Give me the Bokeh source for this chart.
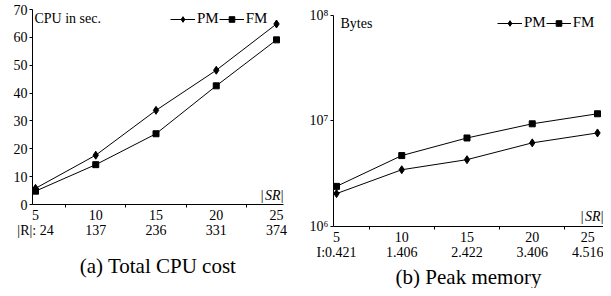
from bokeh.plotting import figure
from bokeh.models import Range1d, FixedTicker, Label, Legend, LegendItem, Title
from bokeh.layouts import row, column
from bokeh.embed import file_html
from bokeh.resources import INLINE

# ---------------- data ----------------
sr = [5, 10, 15, 20, 25]
cpu_pm = [5.8, 17.7, 33.8, 48.2, 64.8]
cpu_fm = [4.8, 14.3, 25.4, 42.6, 59.1]
r_sizes = ["24", "137", "236", "331", "374"]

mem_pm = [2.05e6, 3.45e6, 4.3e6, 6.2e6, 7.7e6]
mem_fm = [2.4e6, 4.7e6, 6.9e6, 9.4e6, 1.17e7]
i_vals = ["0.421", "1.406", "2.422", "3.406", "4.516"]

cpu_ticks = [0, 10, 20, 30, 40, 50, 60, 70]
mem_ticks = [1e6, 1e7, 1e8]
mem_tick_labels = {1e6: "10\u2076", 1e7: "10\u2077", 1e8: "10\u2078"}
minor_x = [7.5, 12.5, 17.5, 22.5]

FONT = "Times New Roman"


def style_axes(p, line_height):
    for ax in [p.xaxis[0], p.yaxis[0]]:
        ax.axis_line_color = "black"
        ax.axis_line_width = 1
        ax.major_tick_line_color = "black"
        ax.minor_tick_line_color = "black"
        ax.major_label_text_font = FONT
        ax.major_label_text_font_size = "14px"
        ax.major_label_text_color = "black"
    p.xaxis.major_label_text_line_height = line_height
    p.xaxis.major_tick_out = 0
    p.xaxis.major_tick_in = 0
    p.xaxis.minor_tick_out = 3
    p.xaxis.minor_tick_in = 0
    p.xaxis.major_label_standoff = 0
    p.yaxis.major_tick_out = 3
    p.yaxis.major_tick_in = 0
    p.yaxis.minor_tick_out = 0
    p.yaxis.minor_tick_in = 0
    p.yaxis.major_label_standoff = 2
    p.xgrid.visible = False
    p.ygrid.visible = False
    p.outline_line_color = None


def lab(p, text, x, y, align="left", base="middle", size="14px", style="normal"):
    p.add_layout(Label(x=x, y=y, x_units="screen", y_units="screen", text=text,
                       text_align=align, text_baseline=base,
                       text_font=FONT, text_font_size=size,
                       text_font_style=style, text_color="black"))


def add_legend(p, rs, loc):
    items = [LegendItem(label="PM", renderers=rs[0]),
             LegendItem(label="FM", renderers=rs[1])]
    lg = Legend(items=items, orientation="horizontal", location=loc,
                glyph_width=25, glyph_height=14, label_height=14,
                label_standoff=2, spacing=0, padding=0, margin=0,
                border_line_color=None, background_fill_alpha=0,
                label_text_font=FONT, label_text_font_size="15px",
                label_text_line_height=1.0,
                label_text_color="black")
    p.add_layout(lg)


def caption(p, text, standoff):
    p.add_layout(Title(text=text, align="center", text_font=FONT,
                       text_font_size="21px", text_font_style="normal",
                       text_line_height=1.0,
                       text_color="black", standoff=standoff), "below")


# ---------------- (a) Total CPU cost ----------------
p1 = figure(width=300, height=288, output_backend="svg", toolbar_location=None,
            x_range=Range1d(4.75, 25.58), y_range=Range1d(0, 70),
            min_border_left=32, min_border_right=17,
            min_border_top=9, min_border_bottom=82)
p1.xaxis.ticker = FixedTicker(ticks=sr, minor_ticks=minor_x)
p1.xaxis.major_label_overrides = {
    s: f"{s}\n" + ("|R|: " if i == 0 else "") + r
    for i, (s, r) in enumerate(zip(sr, r_sizes))}
p1.yaxis.ticker = FixedTicker(ticks=cpu_ticks)
style_axes(p1, 1.05)

l1 = p1.line(sr, cpu_pm, line_color="black", line_width=1)
s1 = p1.scatter(sr, cpu_pm, marker="diamond", size=8, color="black")
l2 = p1.line(sr, cpu_fm, line_color="black", line_width=1)
s2 = p1.scatter(sr, cpu_fm, marker="square", size=6, color="black")
add_legend(p1, [[l1, s1], [l2, s2]], (138, 177))

lab(p1, "CPU in sec.", 2, 186)
lab(p1, "|", 251, 2, align="right", base="bottom")
lab(p1, "SR", 248, 2, align="right", base="bottom", style="italic")
lab(p1, "|", 231, 2, align="right", base="bottom")
caption(p1, "(a) Total CPU cost", 21)

# ---------------- (b) Peak memory ----------------
p2 = figure(width=303, height=288, output_backend="svg", toolbar_location=None,
            y_axis_type="log",
            x_range=Range1d(4.77, 25.46), y_range=Range1d(1e6, 1.138e8),
            min_border_left=33, min_border_right=0,
            min_border_top=9, min_border_bottom=60)
p2.xaxis.ticker = FixedTicker(ticks=sr, minor_ticks=minor_x)
p2.xaxis.major_label_overrides = {
    s: f"{s}\n" + ("I:" if i == 0 else "") + v
    for i, (s, v) in enumerate(zip(sr, i_vals))}
p2.yaxis.ticker = FixedTicker(ticks=mem_ticks)
p2.yaxis.major_label_overrides = mem_tick_labels
p2.yaxis.bounds = (1e6, 1e8)
style_axes(p2, 1.0)

m1 = p2.line(sr, mem_pm, line_color="black", line_width=1)
n1 = p2.scatter(sr, mem_pm, marker="diamond", size=8, color="black")
m2 = p2.line(sr, mem_fm, line_color="black", line_width=1)
n2 = p2.scatter(sr, mem_fm, marker="square", size=6, color="black")
add_legend(p2, [[m1, n1], [m2, n2]], (164, 195))

lab(p2, "Bytes", 7, 203)
lab(p2, "|", 270, 3, align="right", base="bottom")
lab(p2, "SR", 267, 3, align="right", base="bottom", style="italic")
lab(p2, "|", 250, 3, align="right", base="bottom")
caption(p2, "(b) Peak memory", 0)

layout = row(column(p1), column(p2), spacing=0)
open("out.html", "w").write(file_html(layout, INLINE))
